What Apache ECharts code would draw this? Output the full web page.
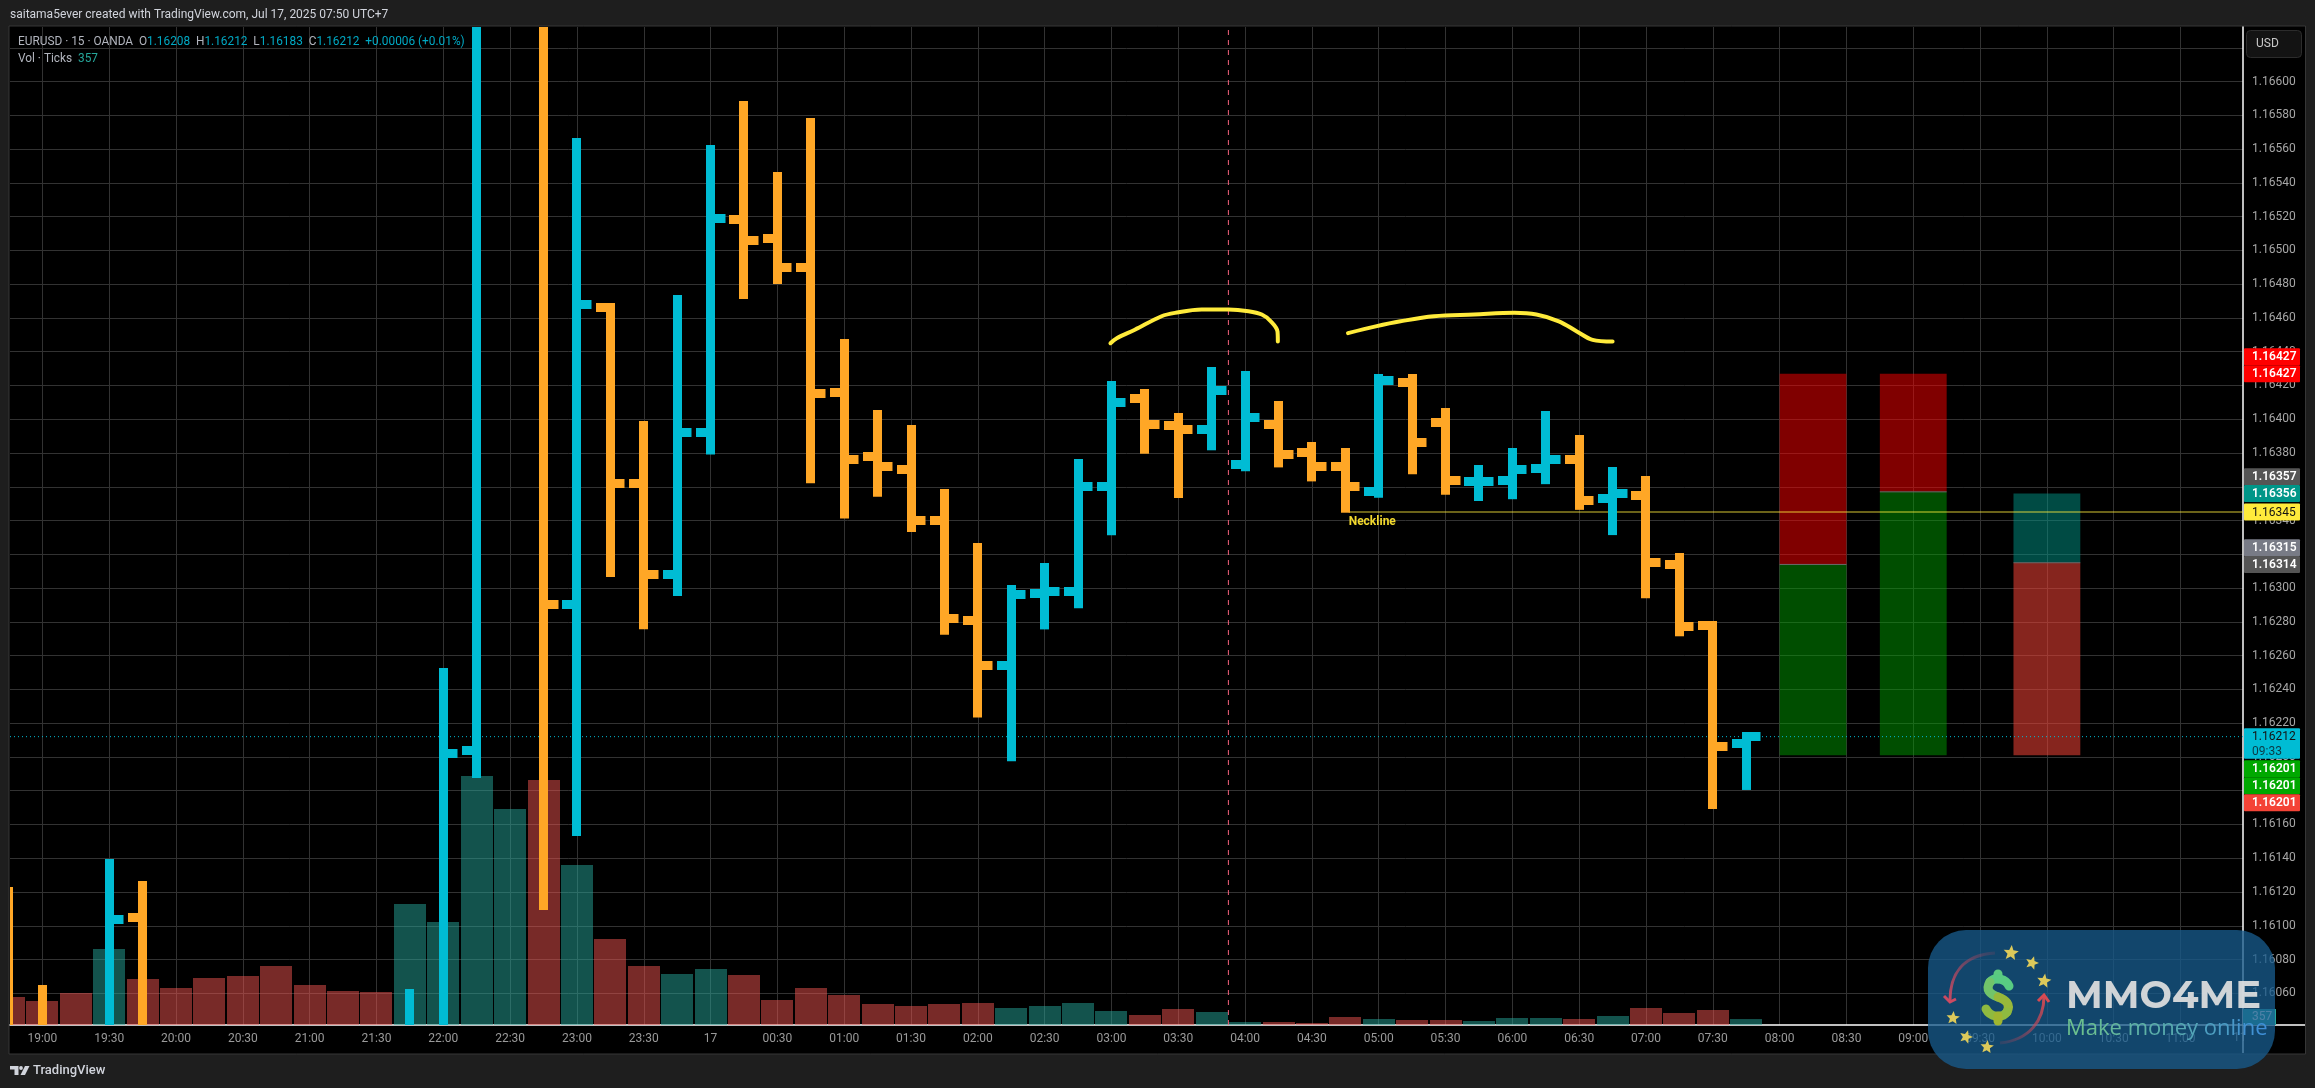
<!DOCTYPE html>
<html><head><meta charset="utf-8">
<style>html,body{margin:0;padding:0;background:#1e1e1e}#c{width:2315px;height:1088px}</style>
<script src="https://cdn.jsdelivr.net/npm/echarts@6/dist/echarts.min.js"></script>
</head><body><div id="c"></div>
<script>
const opens=[1.16035,1.16035,null,1.16030,1.16105,null,null,null,null,null,null,null,1.16030,1.16035,1.16204,null,1.16700,1.16290,1.16466,1.16362,1.16308,1.16392,1.16518,1.16507,1.16490,1.16416,1.16378,1.16370,1.16340,1.16281,1.16254,1.16297,1.16298,1.16360,1.16412,1.16396,1.16394,1.16373,1.16397,1.16380,1.16372,1.16357,1.16422,1.16398,1.16363,1.16364,1.16371,1.16376,1.16353,1.16355,1.16314,1.16278,1.16208];
const highs=[1.16120,1.16062,null,1.16137,1.16124,null,null,null,null,null,null,null,1.16060,1.16250,1.16800,null,1.16760,1.16564,1.16466,1.16396,1.16471,1.16560,1.16586,1.16544,1.16576,1.16445,1.16403,1.16394,1.16356,1.16324,1.16299,1.16312,1.16374,1.16420,1.16415,1.16401,1.16428,1.16426,1.16408,1.16384,1.16380,1.16424,1.16424,1.16404,1.16370,1.16380,1.16402,1.16388,1.16369,1.16364,1.16318,1.16278,1.16212];
const lows=[1.16020,1.16025,null,1.16020,1.16020,null,null,null,null,null,null,null,1.16020,1.16025,1.16190,null,1.16112,1.16156,1.16309,1.16278,1.16298,1.16382,1.16474,1.16483,1.16365,1.16344,1.16357,1.16336,1.16275,1.16226,1.16200,1.16278,1.16291,1.16334,1.16382,1.16356,1.16384,1.16372,1.16374,1.16366,1.16347,1.16356,1.16370,1.16358,1.16354,1.16355,1.16364,1.16349,1.16334,1.16297,1.16274,1.16172,1.16183];
const closes=[1.16030,1.16030,null,1.16104,1.16030,null,null,null,null,null,null,null,1.16035,1.16202,1.16760,null,1.16290,1.16468,1.16362,1.16308,1.16392,1.16519,1.16506,1.16490,1.16415,1.16376,1.16372,1.16340,1.16282,1.16254,1.16296,1.16298,1.16360,1.16410,1.16397,1.16394,1.16417,1.16401,1.16379,1.16372,1.16360,1.16423,1.16386,1.16364,1.16363,1.16370,1.16376,1.16352,1.16356,1.16315,1.16277,1.16206,1.16212];
const volumes=[1680,1440,1920,4560,2760,2220,2820,2940,3540,2400,2040,1980,7260,6180,14940,12960,14700,9600,5160,3540,3060,3360,3000,1500,2220,1800,1260,1140,1260,1320,1020,1140,1320,840,600,960,780,180,180,120,480,360,300,300,240,420,420,360,540,1020,720,900,357];
const volumeRising=[0,0,0,1,0,0,0,0,0,0,0,0,1,1,1,1,0,1,0,0,1,1,0,0,0,0,0,0,0,0,1,1,1,1,0,0,1,1,0,0,0,1,0,0,1,1,1,0,1,0,0,0,1];
const priceTicks=[1.1606,1.1608,1.161,1.1612,1.1614,1.1616,1.1618,1.162,1.1622,1.1624,1.1626,1.1628,1.163,1.1632,1.1634,1.1636,1.1638,1.164,1.1642,1.1644,1.1646,1.1648,1.165,1.1652,1.1654,1.1656,1.1658,1.166,1.1662];
const timeLabels=['19:00','19:30','20:00','20:30','21:00','21:30','22:00','22:30','23:00','23:30','17','00:30','01:00','01:30','02:00','02:30','03:00','03:30','04:00','04:30','05:00','05:30','06:00','06:30','07:00','07:30','08:00','08:30','09:00','09:30','10:00','10:30','11:00'];
const curveOne=[[32.97,1.16445],[33.16,1.16448],[33.7,1.16453],[34.5,1.16461],[34.9,1.16463],[35.7,1.16465],[36.5,1.16465],[37.1,1.16464],[37.5,1.16462],[37.77,1.16458],[37.97,1.16452],[37.98,1.16446]];
const curveTwo=[[40.08,1.16451],[40.91,1.16455],[41.65,1.16458],[42.65,1.16461],[43.85,1.16462],[45.06,1.16463],[45.72,1.16462],[46.39,1.16458],[46.93,1.16452],[47.4,1.16447],[48,1.16446]];
const necklinePrice=1.16345, necklineStart=40.1, lastPrice=1.16212, sessionBreak=36.5;
const positionBoxes=[[53,55,1.16427,1.16314,1.16201],[56,58,1.16427,1.16357,1.16201],[60,62,1.16356,1.16315,1.16201]];
const tagPrices=[1.16427,1.16427,1.16357,1.16356,1.16345,1.16315,1.16314,1.16212,1.16201,1.16201,1.16201];
const tagTexts=['1.16427','1.16427','1.16357','1.16356','1.16345','1.16315','1.16314','1.16212','1.16201','1.16201','1.16201'];
const tagShifts=[-17,0,-15,0,0,-15,0,0,13.5,30.5,47.5];
const tagColors=['#ff0000','#ff0000','#555555','#009688','#ffeb3b','#787b86','#555555','#00bcd4','#00a800','#00a800','#f44336'];
const tagInk=['#fff','#fff','#fff','#fff','#131313','#fff','#fff','#131313','#fff','#fff','#fff'];

const UP='#00bcd4',DOWN='#ffa726',FONT='Roboto, "Noto Sans", sans-serif';
const xMin=0.03,xMax=66.87,yMin=1.1604123,yMax=1.166323;
const ohlc=opens.map((o,i)=>[i,o,highs[i],lows[i],closes[i]]);
const volData=volumes.map((v,i)=>[i,v,volumeRising[i]]);
const tickSlots=timeLabels.map((_,k)=>1+2*k);

function renderVolume(params,api){
  const p=api.coord([api.value(0),api.value(1)]),b=api.coord([api.value(0),0]);
  return {type:'rect',shape:{x:Math.round(p[0]-16),y:p[1],width:32,height:b[1]-p[1]},style:{fill:api.value(2)?'rgba(38,166,154,0.5)':'rgba(239,83,80,0.5)'}};
}
function renderBar(params,api){
  const o=api.value(1),h=api.value(2),l=api.value(3),c=api.value(4),i=api.value(0);
  if(isNaN(h)) return null;
  const color=c>=o?UP:DOWN,x=api.coord([i,o])[0],W=9,L=10;
  const ph=api.coord([i,h])[1],pl=api.coord([i,l])[1],po=api.coord([i,o])[1],pc=api.coord([i,c])[1];
  const rects=[
    [x-W/2,ph-W/2,W,pl-ph+W],
    [x-W/2-L,po-W/2,L+W/2,W],
    [x,pc-W/2,L+W/2,W]
  ];
  return {type:'group',children:rects.map(r=>({type:'rect',shape:{x:Math.round(r[0]),y:Math.round(r[1]),width:r[2],height:r[3]},style:{fill:color}}))};
}
function renderBox(params,api){
  const i=params.dataIndex,x0=api.coord([api.value(0),api.value(2)])[0],x1=api.coord([api.value(1),api.value(2)])[0];
  const a=api.coord([0,api.value(2)])[1],m=api.coord([0,api.value(3)])[1],b=api.coord([0,api.value(4)])[1];
  const top=i===2?'rgba(0,150,136,0.5)':'rgba(255,0,0,0.5)',bot=i===2?'rgba(244,67,54,0.55)':'rgba(0,165,0,0.47)';
  return {type:'group',children:[
    {type:'rect',shape:{x:x0,y:a,width:x1-x0,height:m-a},style:{fill:top}},
    {type:'rect',shape:{x:x0,y:m,width:x1-x0,height:b-m},style:{fill:bot}},
    {type:'line',shape:{x1:x0,y1:m,x2:x1,y2:m},style:{stroke:'#6a6a6a',lineWidth:1}}
  ]};
}
function renderTag(params,api){
  const i=params.dataIndex,y=api.coord([xMax,api.value(0)])[1]+tagShifts[i],x=api.coord([xMax,api.value(0)])[0];
  const two=i===7,top=y-8.5,h=two?30.5:17;
  const kids=[{type:'rect',shape:{x:x+1,y:top,width:56,height:h,r:1},style:{fill:tagColors[i]}},
    {type:'text',style:{x:x+9,y:y+0.5,text:tagTexts[i],fill:tagInk[i],font:(i===4||i===7?'400':'600')+' 12px '+FONT,textVerticalAlign:'middle'}}];
  if(two) kids.push({type:'text',style:{x:x+9,y:y+15,text:'09:33',fill:'#0b3a44',font:'12px '+FONT,textVerticalAlign:'middle'}});
  return {type:'group',children:kids};
}
function renderNeckLabel(params,api){
  const p=api.coord([necklineStart,necklinePrice]);
  return {type:'text',style:{x:p[0],y:p[1]+10,text:'Neckline',fill:'#f2d92e',font:'bold 12px '+FONT,textVerticalAlign:'middle'}};
}
function star(cx,cy,r,a){
  const pts=[];for(let k=0;k<10;k++){const R=k%2?r*0.45:r,t=a+k*Math.PI/5-Math.PI/2;pts.push([cx+R*Math.cos(t),cy+R*Math.sin(t)]);}
  return {type:'polygon',z:121,silent:true,shape:{points:pts},style:{fill:'#dcc95a'}};
}
function dollarStroke(x1,y1,cx1,cy1,cx2,cy2,x2,y2,color){
  return {type:'bezierCurve',z:122,silent:true,shape:{x1:x1,y1:y1,cpx1:cx1,cpy1:cy1,cpx2:cx2,cpy2:cy2,x2:x2,y2:y2},style:{fill:'none',lineWidth:9,lineCap:'round',stroke:color}};
}
const G=echarts.graphic;
const tagline='Make money online';
const tagRich={};
const tagText=tagline.split('').map((ch,k)=>{
  const t=k/(tagline.length-1),col='rgb('+Math.round(108-45*t)+','+Math.round(192-49*t)+','+Math.round(142+72*t)+')';
  tagRich['c'+k]={fill:col,color:col,font:'22px "Open Sans", '+FONT};
  return '{c'+k+'|'+ch+'}';
}).join('');
const graphics=[
  {type:'rect',z:-10,silent:true,shape:{x:9,y:26,width:2296.5,height:1028},style:{fill:'#000',stroke:'#363636',lineWidth:1}},
  {type:'text',z:50,silent:true,x:10,y:15,style:{text:'saitama5ever created with TradingView.com, Jul 17, 2025 07:50 UTC+7',fill:'#d1d4dc',font:'12px '+FONT,textVerticalAlign:'middle'}},
  {type:'text',z:50,silent:true,x:18,y:42,style:{text:'{k|EURUSD · 15 · OANDA  O}{v|1.16208}{k|  H}{v|1.16212}{k|  L}{v|1.16183}{k|  C}{v|1.16212}{v|  +0.00006 (+0.01%)}',textVerticalAlign:'middle',rich:{k:{fill:'#b2b5be',color:'#b2b5be',font:'11.85px '+FONT},v:{fill:'#00a9c4',color:'#00a9c4',font:'11.85px '+FONT}}}},
  {type:'text',z:50,silent:true,x:18,y:59,style:{text:'{k|Vol · Ticks  }{v|357}',textVerticalAlign:'middle',rich:{k:{fill:'#b2b5be',color:'#b2b5be',font:'11.85px '+FONT},v:{fill:'#26a69a',color:'#26a69a',font:'11.85px '+FONT}}}},
  {type:'rect',z:50,silent:true,shape:{x:2246.5,y:30.5,width:55,height:27,r:4},style:{fill:'#131313',stroke:'#2c2c2c',lineWidth:1}},
  {type:'text',z:51,silent:true,x:2256,y:44,style:{text:'USD',fill:'#c8c8c8',font:'12px '+FONT,textVerticalAlign:'middle'}},
  {type:'text',z:5,silent:true,x:2233,y:1038,style:{text:'11',fill:'#9a9a9a',font:'12px '+FONT,textVerticalAlign:'middle'}},
  {type:'line',z:6,silent:true,shape:{x1:2243,y1:1025,x2:2305,y2:1025},style:{stroke:'#ffffff',lineWidth:1.5}},
  {type:'line',z:6,silent:true,shape:{x1:2243,y1:1025,x2:2243,y2:1053},style:{stroke:'#ffffff',lineWidth:1.5}},
  {type:'rect',z:50,silent:true,shape:{x:2243,y:1009,width:33,height:16},style:{fill:'#26a69a'}},
  {type:'text',z:51,silent:true,x:2252,y:1017,style:{text:'357',fill:'#fff',font:'12px '+FONT,textVerticalAlign:'middle'}},
  // TradingView mark
  {type:'polygon',z:50,silent:true,shape:{points:[[10,1066],[18.5,1066],[18.5,1075],[14.5,1075],[14.5,1069.5],[10,1069.5]]},style:{fill:'#d1d4dc'}},
  {type:'circle',z:50,silent:true,shape:{cx:21,cy:1068,r:1.9},style:{fill:'#d1d4dc'}},
  {type:'polygon',z:50,silent:true,shape:{points:[[25,1066],[29.5,1066],[25,1075],[20.5,1075]]},style:{fill:'#d1d4dc'}},
  {type:'text',z:50,silent:true,x:33,y:1071,style:{text:'TradingView',fill:'#d1d4dc',font:'500 13px '+FONT,textVerticalAlign:'middle'}},
  // watermark
  {type:'rect',z:120,silent:true,shape:{x:1928,y:930,width:347,height:139,r:38},style:{fill:'rgba(23,91,140,0.77)'}},
  {type:'bezierCurve',z:121,silent:true,shape:{x1:1995,y1:953,cpx1:1962,cpy1:955,cpx2:1950,cpy2:975,x2:1950,y2:1001},style:{stroke:new G.LinearGradient(1,0,0,1,[{offset:0,color:'rgba(200,70,90,0.1)'},{offset:1,color:'#cc4a62'}]),lineWidth:3,fill:'none'}},
  {type:'polyline',z:121,silent:true,shape:{points:[[1944,996],[1950,1002],[1956,999]]},style:{stroke:'#cc4a62',lineWidth:3,fill:'none'}},
  {type:'bezierCurve',z:121,silent:true,shape:{x1:2000,y1:1043,cpx1:2030,cpy1:1040,cpx2:2044,cpy2:1020,x2:2044,y2:996},style:{stroke:new G.LinearGradient(0,1,1,0,[{offset:0,color:'rgba(200,70,90,0.1)'},{offset:1,color:'#d84a52'}]),lineWidth:3,fill:'none'}},
  {type:'polyline',z:121,silent:true,shape:{points:[[2038,1001],[2044,995],[2049,1002]]},style:{stroke:'#d84a52',lineWidth:3,fill:'none'}},
  dollarStroke(1998,974,1998,976,1998,977,1998,979,'#5ccb80'),
  dollarStroke(2009,986,2006,979,1995,976,1990,982,'#58cb82'),
  dollarStroke(1990,982,1985,990,1990,994,1998,997,'#72c46a'),
  dollarStroke(1998,997,2006,1000,2011,1004,2007,1012,'#98b83a'),
  dollarStroke(2007,1012,2002,1019,1990,1017,1986,1009,'#8fba40'),
  dollarStroke(1998,1016,1998,1018,1998,1019,1998,1021,'#a0b530'),
  star(2011,953,8,0.1),star(2032,963,7,0.3),star(2044,981,7.5,0.15),star(1953,1018,7,0.1),star(1966,1037,7,0.3),star(1987,1047,7,0.1),
  {type:'text',z:122,silent:true,x:2066,y:997,style:{text:'MMO4ME',fill:'rgba(225,225,225,0.92)',font:'bold 38.5px Montserrat, "Open Sans", '+FONT,textVerticalAlign:'middle'}},
  {type:'text',z:122,silent:true,x:2066,y:1029,style:{text:tagText,rich:tagRich,textVerticalAlign:'middle'}}
];
const chart=echarts.init(document.getElementById('c'),null,{renderer:'canvas',width:2315,height:1088});
chart.setOption({
  animation:false,backgroundColor:'#1e1e1e',
  grid:{left:10,top:27,width:2233,height:998,containLabel:false},
  graphic:graphics,
  xAxis:{type:'value',min:xMin,max:xMax,
    axisLine:{show:true,onZero:false,lineStyle:{color:'#ffffff',width:1.5}},
    axisTick:{show:false,customValues:tickSlots},
    axisLabel:{customValues:tickSlots,color:'#9a9a9a',fontFamily:'Roboto, "Noto Sans", sans-serif',fontSize:12,margin:8,formatter:v=>timeLabels[Math.round((v-1)/2)]},
    splitLine:{show:true,lineStyle:{color:'#323232',width:1}}},
  yAxis:[
   {type:'value',position:'right',min:yMin,max:yMax,scale:true,
    axisLine:{show:true,lineStyle:{color:'#ffffff',width:1.5}},
    axisTick:{show:false,customValues:priceTicks},
    axisLabel:{customValues:priceTicks,color:'#a6a6a6',fontFamily:'Roboto, "Noto Sans", sans-serif',fontSize:12,margin:9,padding:[2,0,0,0],formatter:v=>v.toFixed(5)},
    splitLine:{show:true,lineStyle:{color:'#323232',width:1}}},
   {type:'value',min:0,max:59880,show:false,splitLine:{show:false}}
  ],
  series:[
    {name:'Volume',type:'custom',yAxisIndex:1,z:2,clip:true,silent:true,renderItem:renderVolume,encode:{x:0,y:1},data:volData},
    {name:'Positions',type:'custom',z:3,clip:true,silent:true,renderItem:renderBox,encode:{x:[0,1],y:[2,3,4]},data:positionBoxes},
    {name:'Session break',type:'line',z:3,symbol:'none',silent:true,data:[[sessionBreak,yMin],[sessionBreak,yMax]],lineStyle:{color:'#f0607a',width:1,type:[5,5]}},
    {name:'Last price',type:'line',z:3,symbol:'none',silent:true,data:[[xMin,lastPrice],[xMax,lastPrice]],lineStyle:{color:'#00bcd4',width:1,type:[1,3]}},
    {name:'Neckline',type:'line',z:3,symbol:'none',silent:true,data:[[necklineStart,necklinePrice],[xMax,necklinePrice]],lineStyle:{color:'rgba(255,235,59,0.42)',width:2}},
    {name:'OHLC',type:'custom',z:4,clip:true,silent:true,renderItem:renderBar,encode:{x:0,y:[1,2,3,4]},data:ohlc},
    {name:'Top one',type:'line',z:5,symbol:'none',smooth:0.35,silent:true,data:curveOne,lineStyle:{color:'#ffeb3b',width:4,cap:'round'}},
    {name:'Top two',type:'line',z:5,symbol:'none',smooth:0.35,silent:true,data:curveTwo,lineStyle:{color:'#ffeb3b',width:4,cap:'round'}},
    {name:'Neckline label',type:'custom',z:5,clip:false,silent:true,renderItem:renderNeckLabel,data:[[necklineStart,necklinePrice]]},
    {name:'Price tags',type:'custom',z:20,clip:false,silent:true,renderItem:renderTag,encode:{y:0},data:tagPrices.map(p=>[p])}
  ]
});
</script></body></html>
